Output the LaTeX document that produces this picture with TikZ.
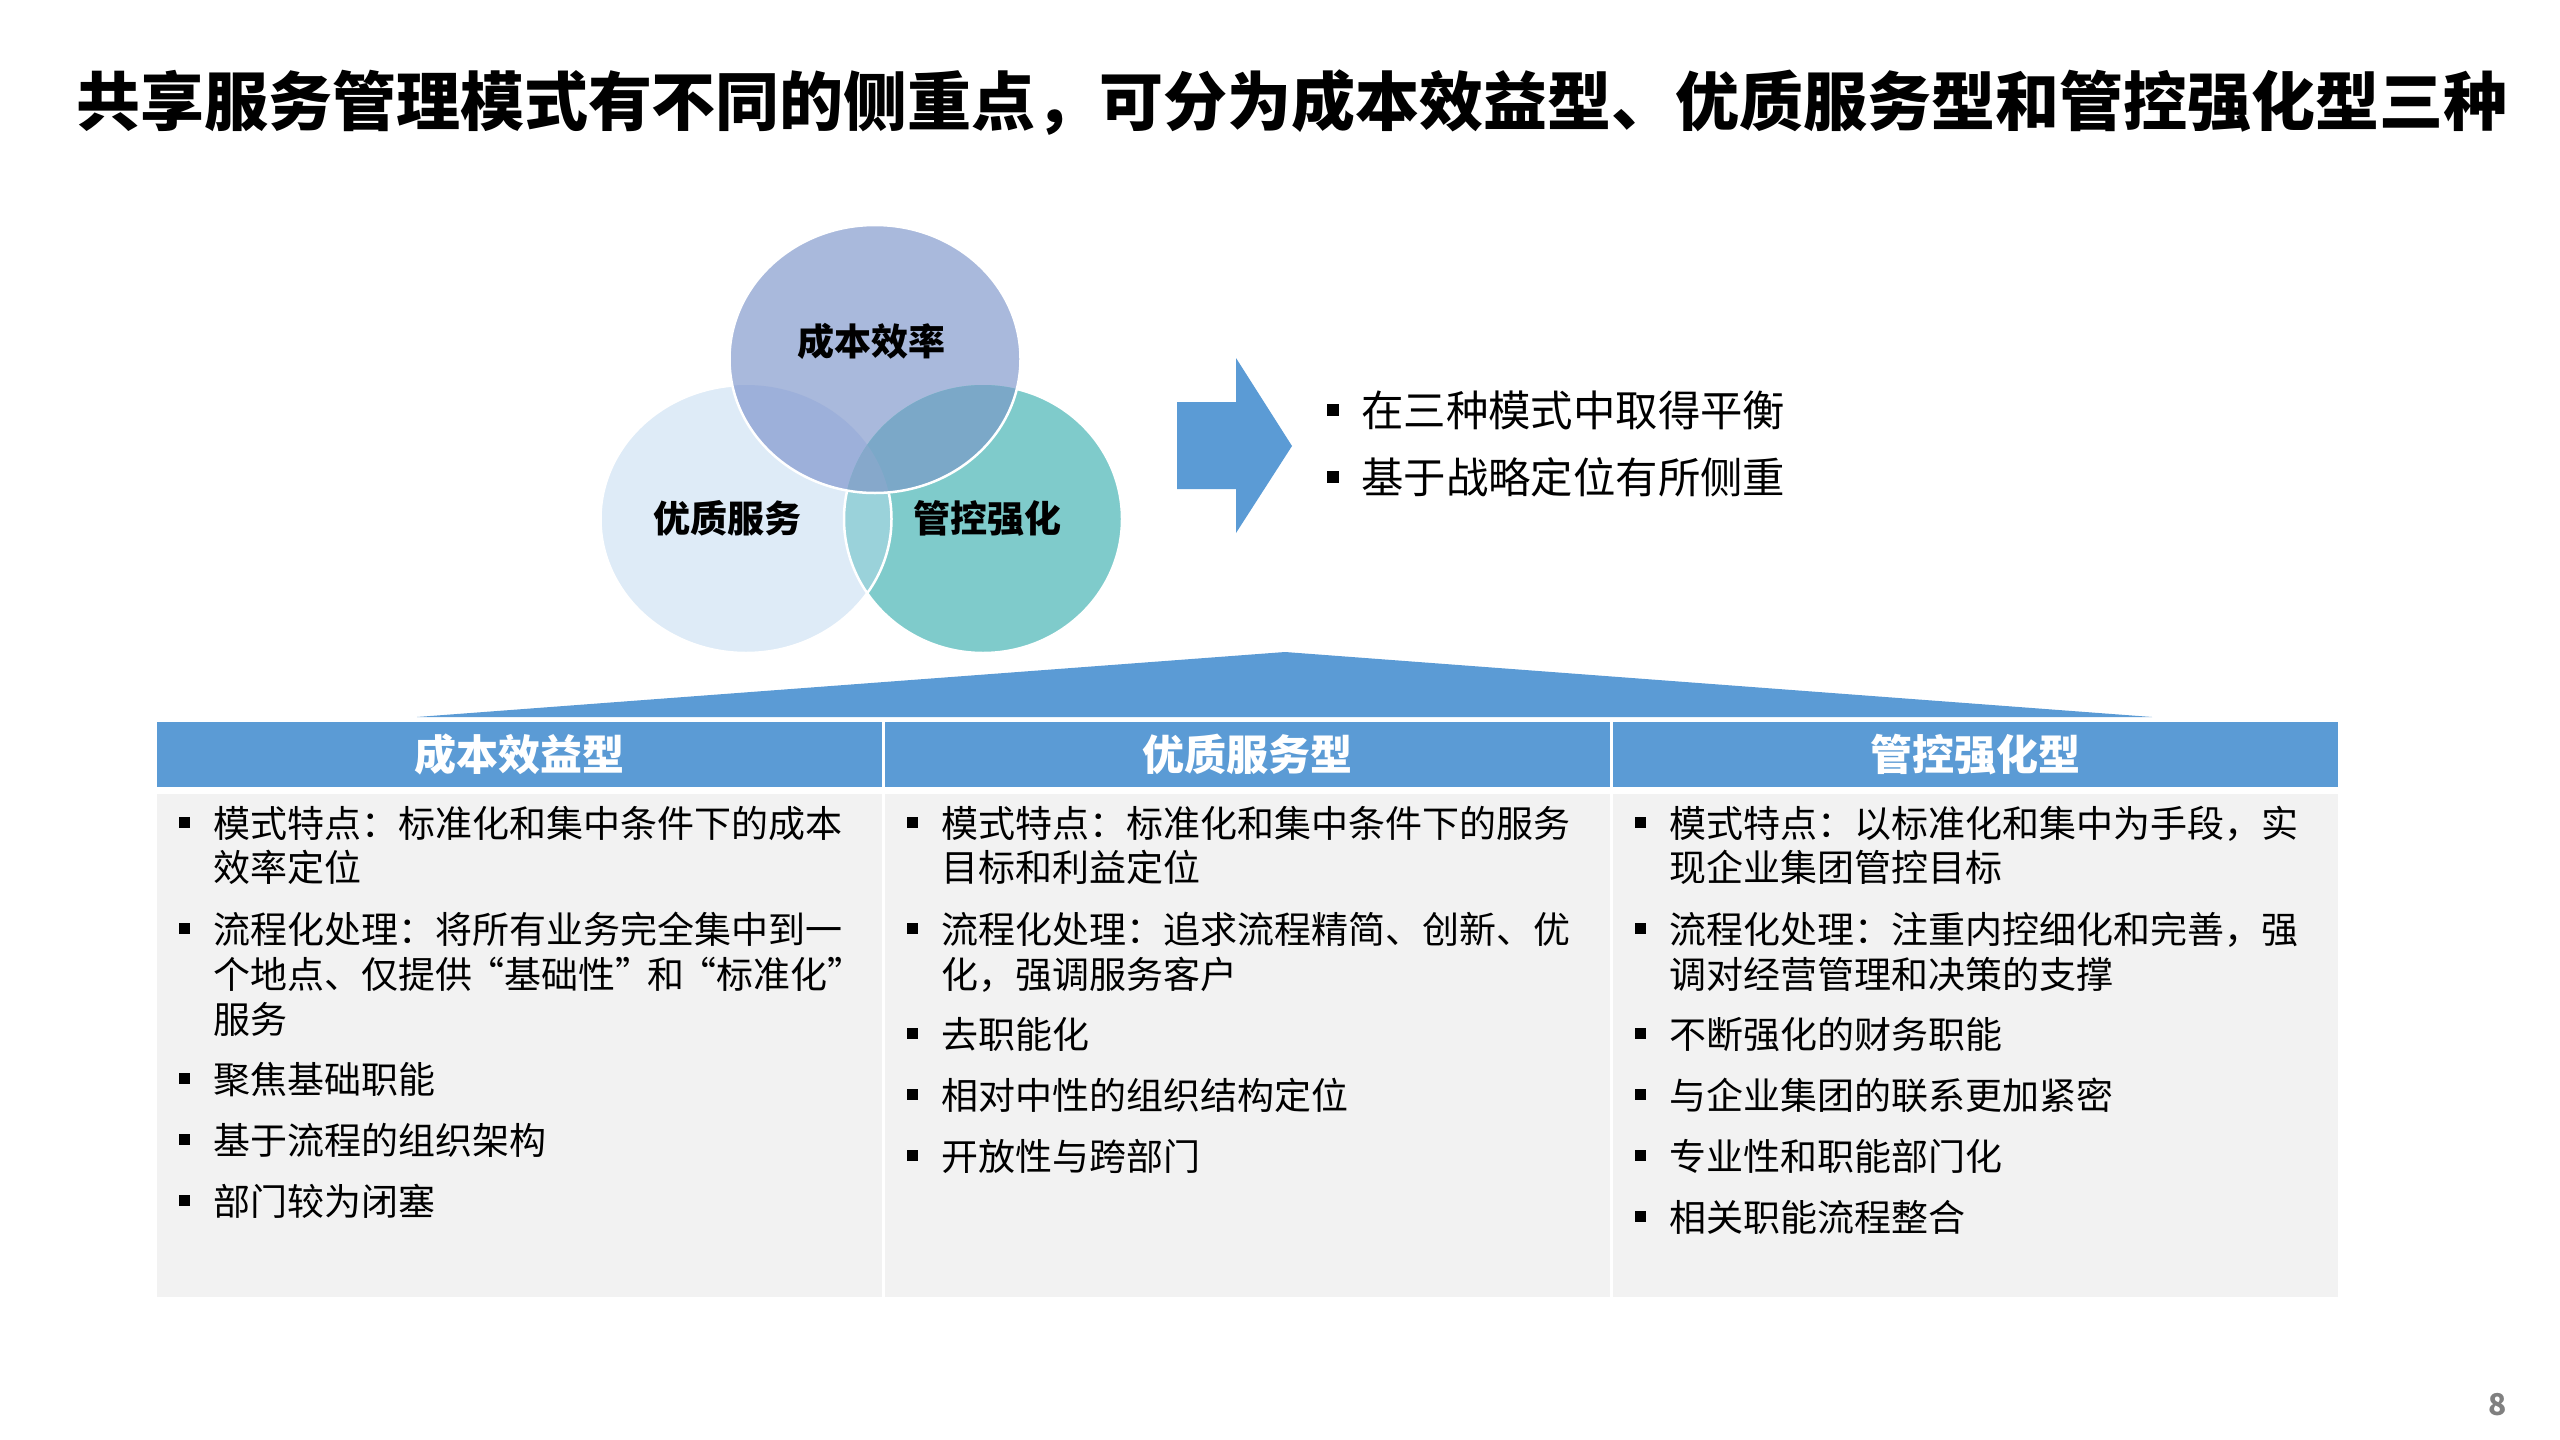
\documentclass[tikz,border=0pt]{standalone}
\usepackage{fontspec}
\setmainfont{Noto Sans CJK SC}
\definecolor{blu}{HTML}{5B9BD5}
\definecolor{cL}{HTML}{DEEBF7}
\definecolor{cT}{HTML}{A9B9DC}
\definecolor{cR}{HTML}{7FCBCB}
\definecolor{cTL}{HTML}{9DB0DA}
\definecolor{cTR}{HTML}{7BA8C8}
\definecolor{cLR}{HTML}{9AD2DA}
\definecolor{cC}{HTML}{86A8CB}
\definecolor{bodygray}{HTML}{F2F2F2}
\definecolor{pgray}{HTML}{808080}
\begin{document}
\begin{tikzpicture}[x=1pt,y=-1pt,
  titletxt/.style={inner sep=0pt, text height=56.3pt, text depth=7.7pt, font=\fontsize{64}{70}\selectfont\bfseries},
  venntxt/.style={inner sep=0pt, text height=32.5pt, text depth=4.5pt, font=\fontsize{37}{44}\selectfont\bfseries},
  sidetxt/.style={inner sep=0pt, anchor=west, text height=37.2pt, text depth=5.1pt, font=\fontsize{42.4}{50}\selectfont},
  hdrbox/.style={fill=blu, draw=none, inner sep=0pt, minimum width=725pt, minimum height=65pt, anchor=north west},
  bodybox/.style={fill=bodygray, draw=none, inner sep=0pt, minimum width=725pt, minimum height=503pt, anchor=north west},
  hdrtxt/.style={inner sep=0pt, text=white, text height=37pt, text depth=5pt, font=\fontsize{42}{48}\selectfont\bfseries},
  ln/.style={inner sep=0pt, anchor=west, text height=32.5pt, text depth=4.5pt, font=\fontsize{37}{44}\selectfont},
  bul/.style={fill=black, draw=none, inner sep=0pt, minimum size=11pt},
  sbul/.style={fill=black, draw=none, inner sep=0pt, minimum size=12pt},
  outl/.style={draw=white, line width=2.5pt}
]
\useasboundingbox (0,0) rectangle (2560,1440);
\fill[white] (0,0) rectangle (2560,1440);

% title
\node[titletxt] (title) at (1292,101) {共享服务管理模式有不同的侧重点，可分为成本效益型、优质服务型和管控强化型三种};

% Venn circles
\fill[cL] (746,519) ellipse [x radius=145.5pt, y radius=134pt];
\fill[cT] (875,359) ellipse [x radius=145.5pt, y radius=134pt];
\fill[cR] (983,519) ellipse [x radius=139pt, y radius=134pt];
\begin{scope}
  \clip (746,519) ellipse [x radius=145.5pt, y radius=134pt];
  \fill[cTL] (875,359) ellipse [x radius=145.5pt, y radius=134pt];
  \fill[cLR] (983,519) ellipse [x radius=139pt, y radius=134pt];
\end{scope}
\begin{scope}
  \clip (875,359) ellipse [x radius=145.5pt, y radius=134pt];
  \fill[cTR] (983,519) ellipse [x radius=139pt, y radius=134pt];
  \clip (746,519) ellipse [x radius=145.5pt, y radius=134pt];
  \fill[cC] (983,519) ellipse [x radius=139pt, y radius=134pt];
\end{scope}
\draw[outl] (875,359) ellipse [x radius=145.5pt, y radius=134pt];
\begin{scope}[even odd rule]
  \clip (0,0) rectangle (2560,1440) (875,359) ellipse [x radius=146.5pt, y radius=135pt];
  \draw[outl] (746,519) ellipse [x radius=145.5pt, y radius=134pt];
  \draw[outl] (983,519) ellipse [x radius=139pt, y radius=134pt];
\end{scope}
\node[venntxt] (vtop) at (871,341) {成本效率};
\node[venntxt] (vleft) at (727,518) {优质服务};
\node[venntxt] (vright) at (987,518) {管控强化};

% arrow
\fill[blu] (1177,402) -- (1236,402) -- (1236,358) -- (1292,446) -- (1236,533) -- (1236,489) -- (1177,489) -- cycle;

% side bullets
\node[sbul] (sb1) at (1333,410) {};
\node[sbul] (sb2) at (1333,477) {};
\node[sidetxt] (st1) at (1361,410) {在三种模式中取得平衡};
\node[sidetxt] (st2) at (1361,477) {基于战略定位有所侧重};

% roof
\fill[blu] (417,717) -- (1285,652) -- (2152,717) -- cycle;

% headers and bodies
\node[hdrbox] (h1) at (157,722) {};
\node[hdrbox] (h2) at (885,722) {};
\node[hdrbox] (h3) at (1613,722) {};
\node[bodybox] (b1) at (157,794) {};
\node[bodybox] (b2) at (885,794) {};
\node[bodybox] (b3) at (1613,794) {};
\node[hdrtxt] (ht1) at (h1.center) {成本效益型};
\node[hdrtxt] (ht2) at (h2.center) {优质服务型};
\node[hdrtxt] (ht3) at (h3.center) {管控强化型};

% column 1
\node[bul] (a1b) at (184,822) {};
\node[ln] (a1) at (213,823) {模式特点：标准化和集中条件下的成本};
\node[ln] (a1x) at (213,867) {效率定位};
\node[bul] (a2b) at (184,928) {};
\node[ln] (a2) at (213,929) {流程化处理：将所有业务完全集中到一};
\node[ln] (a2x) at (213,974) {个地点、仅提供\kern-5pt“基础性”\kern-5pt和\kern-5pt“标准化”};
\node[ln] (a2y) at (213,1019) {服务};
\node[bul] (a3b) at (184,1078) {};
\node[ln] (a3) at (213,1079) {聚焦基础职能};
\node[bul] (a4b) at (184,1139) {};
\node[ln] (a4) at (213,1140) {基于流程的组织架构};
\node[bul] (a5b) at (184,1200) {};
\node[ln] (a5) at (213,1201) {部门较为闭塞};

% column 2
\node[bul] (b1b) at (912,822) {};
\node[ln] (bb1) at (941,823) {模式特点：标准化和集中条件下的服务};
\node[ln] (bb1x) at (941,867) {目标和利益定位};
\node[bul] (b2b) at (912,928) {};
\node[ln] (bb2) at (941,929) {流程化处理：追求流程精简、创新、优};
\node[ln] (bb2x) at (941,974) {化，强调服务客户};
\node[bul] (b3b) at (912,1033) {};
\node[ln] (bb3) at (941,1034) {去职能化};
\node[bul] (b4b) at (912,1094) {};
\node[ln] (bb4) at (941,1095) {相对中性的组织结构定位};
\node[bul] (b5b) at (912,1155) {};
\node[ln] (bb5) at (941,1156) {开放性与跨部门};

% column 3
\node[bul] (c1b) at (1640,822) {};
\node[ln] (cc1) at (1669,823) {模式特点：以标准化和集中为手段，实};
\node[ln] (cc1x) at (1669,867) {现企业集团管控目标};
\node[bul] (c2b) at (1640,928) {};
\node[ln] (cc2) at (1669,929) {流程化处理：注重内控细化和完善，强};
\node[ln] (cc2x) at (1669,974) {调对经营管理和决策的支撑};
\node[bul] (c3b) at (1640,1033) {};
\node[ln] (cc3) at (1669,1034) {不断强化的财务职能};
\node[bul] (c4b) at (1640,1094) {};
\node[ln] (cc4) at (1669,1095) {与企业集团的联系更加紧密};
\node[bul] (c5b) at (1640,1155) {};
\node[ln] (cc5) at (1669,1156) {专业性和职能部门化};
\node[bul] (c6b) at (1640,1216) {};
\node[ln] (cc6) at (1669,1217) {相关职能流程整合};

% page number
\node[inner sep=0pt, text=pgray, font=\fontsize{30}{34}\selectfont\bfseries] (pnum) at (2498,1405) {8};
\end{tikzpicture}
\end{document}
